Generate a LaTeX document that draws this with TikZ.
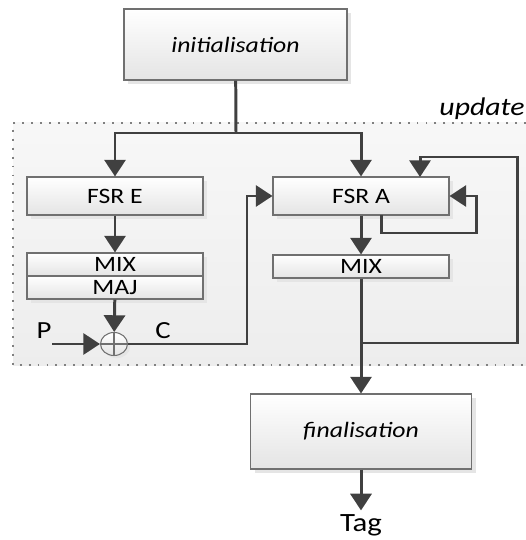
\documentclass[tikz,border=0pt]{standalone}
\usepackage{fontspec}
\setmainfont{Carlito}[FakeStretch=1.17]
\usetikzlibrary{arrows.meta,shadows,shapes.geometric}

\definecolor{wire}{HTML}{404040}
\definecolor{boxline}{HTML}{707070}
\definecolor{boxlow}{HTML}{E4E4E4}

\begin{document}
\begin{tikzpicture}[
                x=0.02cm, y=-0.02cm,
                block/.style={
                        draw=boxline, line width=0.6pt,
                        top color=white, bottom color=boxlow,
                        drop shadow={shadow xshift=2.5pt, shadow yshift=-2.5pt,
                                fill=black!10, opacity=1},
                        minimum width=3.52cm, inner sep=0pt,
                        font=\fontsize{12.5}{14}\selectfont
                    },
                wire/.style={draw=wire, line width=1.7pt},
                arr/.style={wire, -{Triangle[length=9.5pt, width=12pt]}},
                lbl/.style={font=\fontsize{14}{16}\selectfont, inner sep=0pt}
            ]

            \useasboundingbox (0,0) rectangle (526,540);

            % update region
            \fill[top color=white!97!black, bottom color=white!93!black]
                (13,123) rectangle (526,365);
            \draw[gray, line width=1pt, dash pattern=on 1.1pt off 4pt]
                (526,123) -- (13,123) -- (13,365) -- (526,365);
            \node[anchor=base east, lbl, font=\fontsize{14.5}{16}\selectfont\itshape]
                (update) at (525,116) {update};

            \node[block, minimum width=4.46cm, minimum height=1.42cm,
                font=\fontsize{12.5}{14}\selectfont\itshape]
                (init) at (235.5,44.5) {initialisation};

            \node[block, minimum height=0.76cm] (fsrE) at (115,196) {FSR E};
            \node[block, minimum height=0.76cm] (fsrA) at (361,196) {FSR A};

            \node[block, minimum height=0.46cm] (mixE) at (115,264.5) {MIX};
            \node[block, minimum height=0.46cm] (majE) at (115,287.5) {MAJ};
            \node[block, minimum height=0.46cm] (mixA) at (361,266.5) {MIX};

            \node[draw=boxline, line width=0.6pt, ellipse,
                top color=white, bottom color=boxlow,
                drop shadow={shadow xshift=1.5pt, shadow yshift=-1.5pt,
                        fill=black!10, opacity=1},
                minimum width=0.54cm, minimum height=0.46cm, inner sep=0pt]
                (xor) at (114,344) {};
            \draw[boxline, line width=0.6pt] (xor.north) -- (xor.south)
                (xor.west) -- (xor.east);

            \node[lbl] (p) at (44,331) {P};
            \node[lbl] (c) at (163,331) {C};

            \node[block, minimum width=4.42cm, minimum height=1.5cm,
                font=\fontsize{12.5}{14}\selectfont\itshape]
                (fin) at (361,431.5) {finalisation};
            \node[lbl, font=\fontsize{15}{17}\selectfont, inner sep=2pt]
                (tag) at (361,525) {Tag};

            \coordinate (split) at (236,133);
            \coordinate (pin) at (52,344);
            \coordinate (cturn) at (247,344);
            \coordinate (selfout) at (381,215);
            \coordinate (selfturn) at (476,233);
            \coordinate (tap) at (361,343);
            \coordinate (fbturn) at (517,157);
            \coordinate (fbin) at (420,177);

            \draw[wire] (init) -- (split);
            \draw[arr] (split) -| (fsrE);
            \draw[arr] (split) -| (fsrA);
            \draw[arr] (fsrE) -- (mixE);
            \draw[arr] (majE) -- (xor);
            \draw[arr] (pin) -- (xor);
            \draw[arr] (xor) -- (cturn) |- (fsrA);
            \draw[arr] (selfout) |- (selfturn) |- (fsrA.east);
            \draw[arr] (fsrA) -- (mixA);
            \draw[arr] (tap) -| (fbturn) -| (fbin);
            \draw[arr] (mixA) -- (fin);
            \draw[arr] (fin) -- (tag);

        \end{tikzpicture}
\end{document}
